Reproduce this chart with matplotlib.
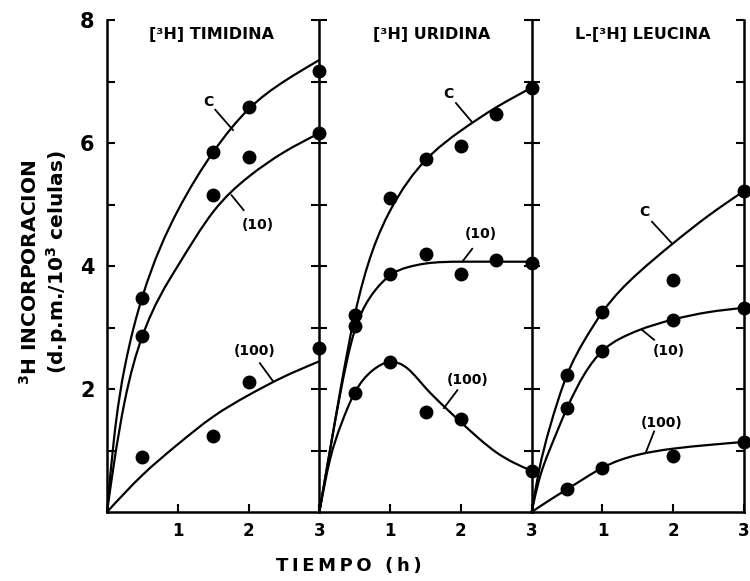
import matplotlib
matplotlib.use("Agg")
import matplotlib.pyplot as plt
import matplotlib.lines as mlines
import numpy as np
from matplotlib.path import Path
from matplotlib.patches import PathPatch

plt.rcParams['font.family'] = ['DejaVu Sans']
plt.rcParams['font.weight'] = 'bold'
plt.rcParams['mathtext.default'] = 'bf'

# ---- measured points (time in h, 3H incorporation in d.p.m./10^3 cells) ----
tim_t = [0.5, 1.5, 2.0, 3.0]
tim_c = [3.48, 5.85, 6.58, 7.17]
tim_10 = [2.86, 5.15, 5.77, 6.17]
tim_100 = [0.89, 1.24, 2.12, 2.66]

uri_t = [0.5, 1.0, 1.5, 2.0, 2.5, 3.0]
uri_c = [3.21, 5.11, 5.74, 5.95, 6.47, 6.90]
uri_10 = [3.03, 3.87, 4.19, 3.87, 4.10, 4.05]
uri_100_t = [0.5, 1.0, 1.5, 2.0, 3.0]
uri_100 = [1.94, 2.44, 1.62, 1.52, 0.67]

leu_t = [0.5, 1.0, 2.0, 3.0]
leu_c = [2.23, 3.25, 3.77, 5.22]
leu_10 = [1.69, 2.62, 3.13, 3.32]
leu_100 = [0.37, 0.72, 0.91, 1.14]

# ---- hand-fitted curves, sampled along time ----
tim_c_fit_t = [0, 0.1, 0.25, 0.5, 1.0, 1.5, 2.0, 2.5, 3.0]
tim_c_fit = [0, 1.2, 2.35, 3.5, 4.9, 5.85, 6.55, 7.0, 7.35]
tim_10_fit_t = [0, 0.1, 0.25, 0.5, 1.0, 1.5, 2.0, 2.5, 3.0]
tim_10_fit = [0, 0.8, 1.8, 2.86, 4.0, 4.88, 5.45, 5.85, 6.16]
tim_100_fit_t = [0, 0.5, 1.0, 1.5, 2.0, 2.5, 3.0]
tim_100_fit = [0, 0.6, 1.1, 1.55, 1.9, 2.2, 2.45]

uri_c_fit_t = [0, 0.15, 0.3, 0.5, 1.0, 1.5, 2.0, 2.5, 3.0]
uri_c_fit = [0, 1.0, 2.0, 3.2, 4.9, 5.72, 6.2, 6.58, 6.9]
uri_10_fit_t = [0, 0.15, 0.3, 0.45, 0.6, 0.8, 1.0, 1.25, 1.5, 2.0, 2.5, 3.0]
uri_10_fit = [0, 1.0, 1.95, 2.75, 3.25, 3.62, 3.85, 3.98, 4.04, 4.07, 4.07, 4.07]
uri_100_fit_t = [0, 0.15, 0.3, 0.5, 0.75, 1.0, 1.25, 1.5, 1.75, 2.0, 2.25, 2.5, 2.75, 3.0]
uri_100_fit = [0, 0.85, 1.4, 1.94, 2.3, 2.44, 2.33, 2.02, 1.73, 1.46, 1.2, 0.97, 0.8, 0.67]

leu_c_fit_t = [0, 0.1, 0.25, 0.5, 0.75, 1.0, 1.5, 2.0, 2.5, 3.0]
leu_c_fit = [0, 0.65, 1.35, 2.23, 2.8, 3.25, 3.88, 4.37, 4.82, 5.22]
leu_10_fit_t = [0, 0.1, 0.25, 0.5, 0.75, 1.0, 1.25, 1.5, 2.0, 2.5, 3.0]
leu_10_fit = [0, 0.5, 1.0, 1.69, 2.25, 2.62, 2.82, 2.95, 3.13, 3.25, 3.32]
leu_100_fit_t = [0, 0.25, 0.5, 0.75, 1.0, 1.5, 2.0, 2.5, 3.0]
leu_100_fit = [0, 0.19, 0.37, 0.55, 0.72, 0.93, 1.03, 1.09, 1.14]

titles = ["[\u00b3H] TIMIDINA", "[\u00b3H] URIDINA", "L-[\u00b3H] LEUCINA"]
y_ticks = [1, 2, 3, 4, 5, 6, 7, 8]
y_labels = ["", "2", "", "4", "", "6", "", "8"]
x_ticks = [1, 2, 3]
x_labels = ["1", "2", "3"]


def spline_slopes(x, y):
    """First derivatives of the natural cubic spline through (x, y)."""
    x = np.asarray(x, float)
    y = np.asarray(y, float)
    n = len(x)
    h = np.diff(x)
    d = np.diff(y) / h
    A = np.zeros((n, n))
    r = np.zeros(n)
    A[0, 0] = A[-1, -1] = 1.0
    for k in range(1, n - 1):
        A[k, k - 1] = h[k - 1]
        A[k, k] = 2 * (h[k - 1] + h[k])
        A[k, k + 1] = h[k]
        r[k] = 6 * (d[k] - d[k - 1])
    M = np.linalg.solve(A, r)
    m = np.zeros(n)
    for k in range(n - 1):
        m[k] = d[k] - h[k] * (2 * M[k] + M[k + 1]) / 6
    m[-1] = d[-1] + h[-1] * (M[-2] + 2 * M[-1]) / 6
    return m


def smooth_curve(ax, x, y):
    m = spline_slopes(x, y)
    verts = [(x[0], y[0])]
    codes = [Path.MOVETO]
    for k in range(len(x) - 1):
        h = x[k + 1] - x[k]
        verts += [(x[k] + h / 3, y[k] + m[k] * h / 3),
                  (x[k + 1] - h / 3, y[k + 1] - m[k + 1] * h / 3),
                  (x[k + 1], y[k + 1])]
        codes += [Path.CURVE4] * 3
    ax.add_patch(PathPatch(Path(verts, codes), fill=False, lw=1.6,
                           color='black', clip_on=False))


fig = plt.figure(figsize=(7.5, 5.81), dpi=100)
L, B = 107 / 750, 1 - 512 / 581
W = (744 - 107) / 750 / 3
H = (512 - 20) / 581

panels = [
    dict(pts=[(tim_t, tim_c), (tim_t, tim_10), (tim_t, tim_100)],
         fits=[(tim_c_fit_t, tim_c_fit), (tim_10_fit_t, tim_10_fit),
               (tim_100_fit_t, tim_100_fit)],
         labels=[("C", 1.43, 6.67, (1.53, 6.54), (1.78, 6.21)),
                 ("(10)", 2.13, 4.67, (1.93, 4.91), (1.76, 5.15)),
                 ("(100)", 2.09, 2.62, (2.16, 2.42), (2.35, 2.12))],
         title_x=1.48),
    dict(pts=[(uri_t, uri_c), (uri_t, uri_10), (uri_100_t, uri_100)],
         fits=[(uri_c_fit_t, uri_c_fit), (uri_10_fit_t, uri_10_fit),
               (uri_100_fit_t, uri_100_fit)],
         labels=[("C", 1.83, 6.80, (1.93, 6.65), (2.15, 6.35)),
                 ("(10)", 2.28, 4.52, (2.16, 4.28), (2.02, 4.07)),
                 ("(100)", 2.09, 2.15, (1.95, 1.98), (1.76, 1.69))],
         title_x=1.58),
    dict(pts=[(leu_t, leu_c), (leu_t, leu_10), (leu_t, leu_100)],
         fits=[(leu_c_fit_t, leu_c_fit), (leu_10_fit_t, leu_10_fit),
               (leu_100_fit_t, leu_100_fit)],
         labels=[("C", 1.59, 4.88, (1.70, 4.72), (1.98, 4.37)),
                 ("(10)", 1.94, 2.61, (1.73, 2.80), (1.56, 2.96)),
                 ("(100)", 1.84, 1.44, (1.73, 1.31), (1.61, 0.96))],
         title_x=1.57),
]

for i, p in enumerate(panels):
    ax = fig.add_axes([L + i * W, B, W, H])
    ax.set_xlim(0, 3)
    ax.set_ylim(0, 8)
    ax.patch.set_alpha(0)
    for s in ax.spines.values():
        s.set_linewidth(1.8)
    ax.spines['top'].set_visible(False)
    ax.spines['left'].set_visible(i == 0)

    ax.set_xticks(x_ticks)
    ax.set_xticklabels(x_labels)
    ax.tick_params(axis='x', direction='in', length=6, width=1.5,
                   labelsize=12, pad=7)

    ax.set_yticks(y_ticks)
    if i == 0:
        ax.set_yticklabels(y_labels)
        ax.tick_params(axis='y', left=True, direction='in', length=6,
                       width=1.5, labelsize=15, pad=9)
    else:
        ax.tick_params(axis='y', left=False, labelleft=False)

    # right edge: panel divider with crossing ticks, or outer frame
    ax.tick_params(axis='y', right=True, labelright=False)
    for t in ax.yaxis.get_major_ticks():
        if i < 2:
            t.tick2line.set_marker('_')
            t.tick2line.set_markersize(12)
        else:
            t.tick2line.set_marker(mlines.TICKLEFT)
            t.tick2line.set_markersize(6)
        t.tick2line.set_markeredgewidth(1.5)

    for lbl in ax.get_xticklabels() + ax.get_yticklabels():
        lbl.set_fontweight('bold')

    for (fx, fy) in p['fits']:
        smooth_curve(ax, fx, fy)
    for (px, py) in p['pts']:
        ax.plot(px, py, 'o', color='black', ms=9, clip_on=False, zorder=5)

    for (txt, tx, ty, a, b) in p['labels']:
        ax.text(tx, ty, txt, ha='center', va='center', fontsize=10,
                fontweight='bold')
        ax.plot([a[0], b[0]], [a[1], b[1]], color='black', lw=1.3)

    ax.text(p['title_x'], 7.76, titles[i], ha='center', va='center',
            fontsize=11.5, fontweight='bold')

fig.text(0.04, 0.532, "$^{3}$H INCORPORACION", rotation=90, ha='center',
         va='center', fontsize=14.5, fontweight='bold')
fig.text(0.076, 0.549, "(d.p.m./10$^{3}$ celulas)", rotation=90, ha='center',
         va='center', fontsize=14.5, fontweight='bold')
fig.text(0.465, 0.026,
         "T\u2009I\u2009E\u2009M\u2009P\u2009O\u2009 \u2009(\u2009h\u2009)",
         ha='center', va='center', fontsize=13)

fig.savefig("out.png", dpi=100)
